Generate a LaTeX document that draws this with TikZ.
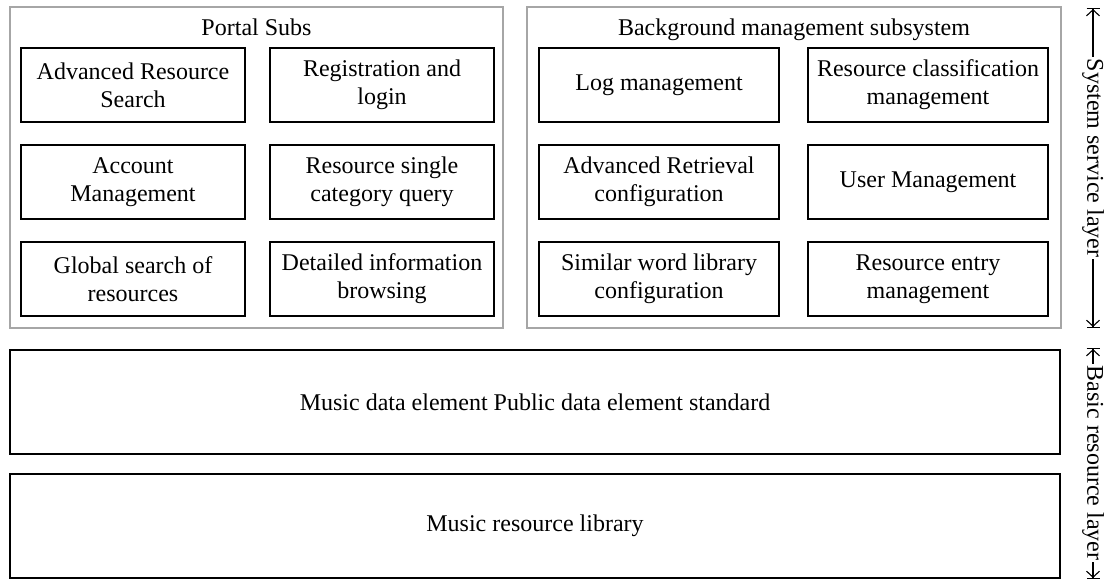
\documentclass[tikz,border=0pt]{standalone}
\usepackage{fontspec}
\setmainfont{Liberation Serif}
\usetikzlibrary{arrows.meta}
\begin{document}
\begin{tikzpicture}[x=1pt,y=-1pt,
  txt/.style={font=\fontsize{24}{28}\selectfont, align=center},
  group/.style={draw=black!35, line width=1.6pt},
  item/.style={draw=black, line width=1.6pt, inner sep=0pt, txt},
  lefti/.style={item, minimum width=224pt, minimum height=74pt},
  righti/.style={item, minimum width=240pt, minimum height=74pt},
  wide/.style={item, minimum width=1050pt, minimum height=104pt},
  layerarrow/.style={line width=1.1pt,
    {Bar[width=13pt]Straight Barb[length=6pt,width=13pt]}-{Straight Barb[length=6pt,width=13pt]Bar[width=13pt]}},
  layerlabel/.style={txt, fill=white, inner sep=2pt, rotate=-90}
]
\useasboundingbox (0,0) rectangle (1110,581);

% group frames
\draw[group] (10,7) rectangle (503,328);
\draw[group] (527,7) rectangle (1061,328);
\node[txt, anchor=base] (t1) at (256.5,35) {Portal Subs};
\node[txt, anchor=base] (t2) at (794,35) {Background management subsystem};

% portal subsystem
\node[lefti] (a1) at (133,85) {Advanced Resource\\Search};
\node[lefti] (a2) at (382,85) {Registration and\\login};
\node[lefti] (a3) at (133,182) {Account\\Management};
\node[lefti] (a4) at (382,182) {Resource single\\category query};
\node[lefti] (a5) at (133,279) {Global search of\\resources};
\node[lefti] (a6) at (382,279) {Detailed information\\browsing};

% background management
\node[righti] (b1) at (659,85) {Log management};
\node[righti] (b2) at (928,85) {Resource classification\\management};
\node[righti] (b3) at (659,182) {Advanced Retrieval\\configuration};
\node[righti] (b4) at (928,182) {User Management};
\node[righti] (b5) at (659,279) {Similar word library\\configuration};
\node[righti] (b6) at (928,279) {Resource entry\\management};

% basic layer
\node[wide] (c1) at (535,402) {Music data element Public data element standard};
\node[wide] (c2) at (535,526) {Music resource library};

% layer arrows
\coordinate (s1) at (1093,8);
\coordinate (s2) at (1093,328);
\coordinate (r1) at (1093,348);
\coordinate (r2) at (1093,579);
\draw[layerarrow] (s1) -- (s2);
\draw[layerarrow] (r1) -- (r2);
\node[layerlabel] (ls) at (1093,158) {System service layer};
\node[layerlabel] (lr) at (1093,463) {Basic resource layer};
\end{tikzpicture}
\end{document}
